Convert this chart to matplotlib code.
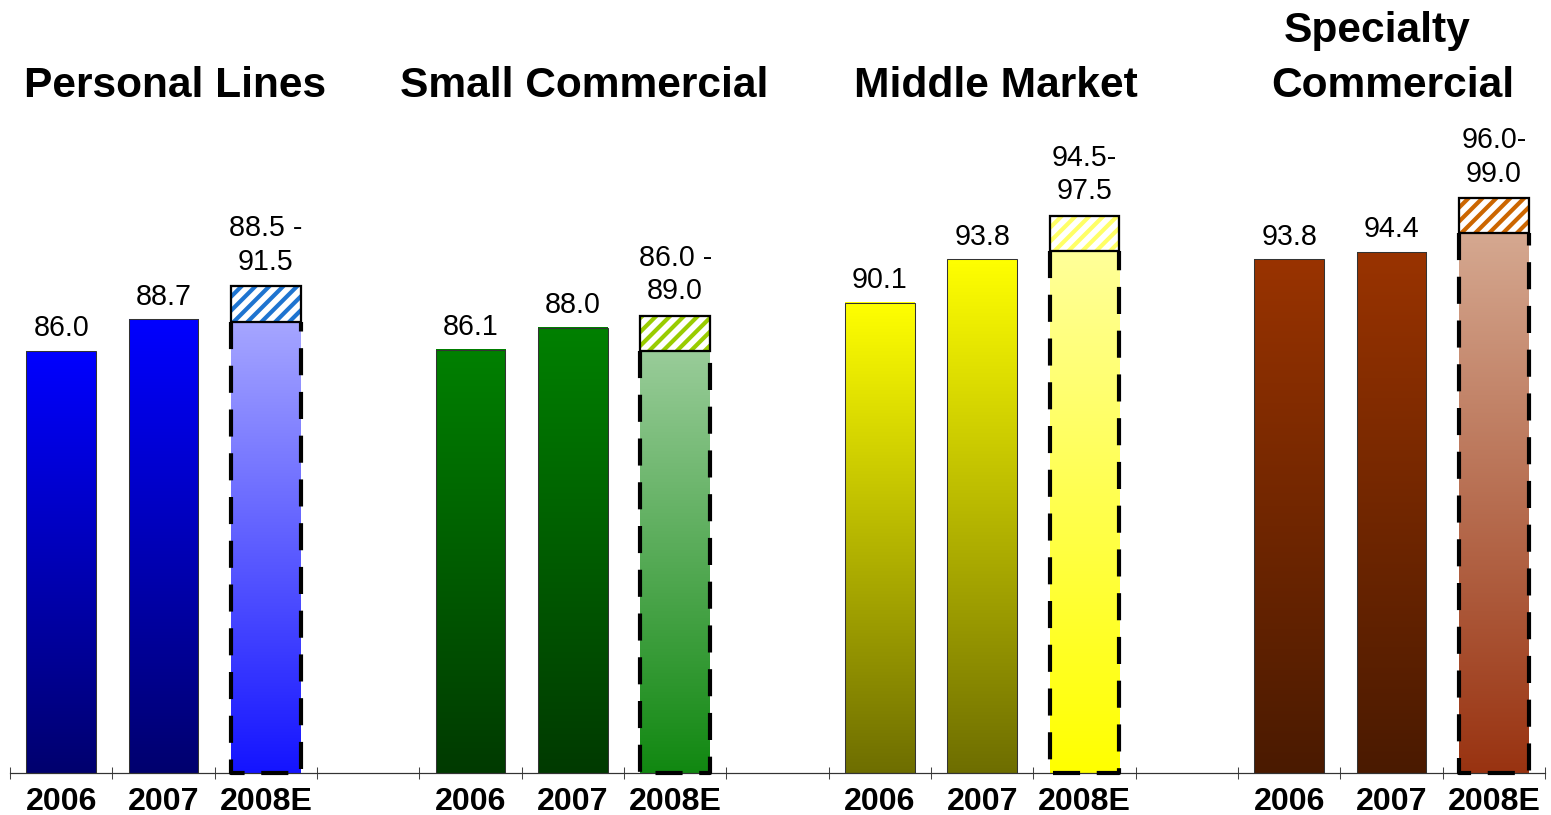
import numpy as np
import matplotlib.pyplot as plt
from matplotlib.colors import to_rgb
from matplotlib.patches import Rectangle

plt.rcParams['font.family'] = ['Liberation Sans', 'DejaVu Sans']
plt.rcParams['hatch.linewidth'] = 2.4

groups = ["Personal Lines", "Small Commercial", "Middle Market", "Specialty\nCommercial"]
years = ["2006", "2007", "2008E"]
val_2006 = [86.0, 86.1, 90.1, 93.8]
val_2007 = [88.7, 88.0, 93.8, 94.4]
est_low = [88.5, 86.0, 94.5, 96.0]
est_high = [91.5, 89.0, 97.5, 99.0]
est_labels = ["88.5 -\n91.5", "86.0 -\n89.0", "94.5-\n97.5", "96.0-\n99.0"]

# gradient colours, (top, bottom)
actual_colors = [("#0000ff", "#00006e"), ("#008000", "#003a00"),
                 ("#ffff00", "#6e6e00"), ("#993300", "#4a1a00")]
est_colors = [("#a6a6ff", "#1414ff"), ("#99cc99", "#118811"),
              ("#ffff99", "#ffff00"), ("#d5a890", "#993311")]
hatch_colors = ["#1e74d0", "#99cc00", "#ffff66", "#cc6600"]

W, H, DPI = 1551, 815, 125
YMIN, YMAX = 50.2, 115.8
BAR_W = 0.68


def gradient(ax, x, top, c_top, c_bot, zorder=2):
    """fill a bar from YMIN to top with a vertical colour gradient"""
    t = np.linspace(0, 1, 256)[:, None, None]
    img = (1 - t) * np.array(to_rgb(c_top)) + t * np.array(to_rgb(c_bot))
    ax.imshow(img, extent=(x - BAR_W / 2, x + BAR_W / 2, YMIN, top),
              aspect='auto', interpolation='bilinear', zorder=zorder)


fig = plt.figure(figsize=(W / DPI, H / DPI), dpi=DPI)
ax = fig.add_axes([10 / W, 1 - 773 / H, 1535 / W, 773 / H])

for g in range(len(groups)):
    x0 = 4 * g
    top_c, bot_c = actual_colors[g]
    for i, v in enumerate([val_2006[g], val_2007[g]]):
        x = x0 + i
        gradient(ax, x, v, top_c, bot_c)
        ax.add_patch(Rectangle((x - BAR_W / 2, YMIN), BAR_W, v - YMIN, fill=False,
                               edgecolor='#333333', lw=0.6, zorder=3))
        ax.annotate(f"{v:.1f}", (x, v), xytext=(0, 5), textcoords='offset points',
                    ha='center', va='bottom', fontsize=16.5)

    # 2008 estimate: solid lower part plus hatched range
    x = x0 + 2
    lo, hi = est_low[g], est_high[g]
    gradient(ax, x, lo, *est_colors[g])
    xl, xr = x - BAR_W / 2, x + BAR_W / 2
    ax.plot([xl, xl, xr, xr], [lo, YMIN, YMIN, lo], color='black', lw=2.4,
            ls=(0, (6.5, 4)), solid_capstyle='butt', clip_on=False, zorder=4)
    ax.add_patch(Rectangle((xl, lo), BAR_W, hi - lo, facecolor='white',
                           edgecolor=hatch_colors[g], hatch='///', lw=0, zorder=5))
    ax.add_patch(Rectangle((xl, lo), BAR_W, hi - lo, fill=False,
                           edgecolor='black', lw=1.3, zorder=6))
    ax.annotate(est_labels[g], (x, hi), xytext=(0, 6), textcoords='offset points',
                ha='center', va='bottom', fontsize=16.5, linespacing=1.25)

# group titles
title_x = [[175], [584], [996], [1377, 1393]]
for g, name in enumerate(groups):
    lines = name.split("\n")
    for k, line in enumerate(reversed(lines)):
        xs = title_x[g][len(lines) - 1 - k]
        fig.text(xs / W, 1 - (97 - 55 * k) / H, line, ha='center', va='baseline',
                 fontsize=24.5, fontweight='bold')

ax.set_xlim(-0.5, 14.5)
ax.set_ylim(YMIN, YMAX)
for s in ['top', 'left', 'right']:
    ax.spines[s].set_visible(False)
ax.spines['bottom'].set_color('#333333')
ax.spines['bottom'].set_linewidth(0.7)
ax.set_yticks([])
ax.set_xticks(np.arange(-0.5, 15, 1))
ax.set_xticklabels([])
ax.tick_params(axis='x', which='major', direction='inout', length=7, width=0.6,
               color='#444444')
centers = [4 * g + i for g in range(len(groups)) for i in range(len(years))]
ax.set_xticks(centers, years * len(groups), minor=True)
ax.tick_params(axis='x', which='minor', length=0, pad=8, labelsize=18.5)
for lab in ax.get_xticklabels(minor=True):
    lab.set_fontweight('bold')

fig.savefig("out.png", dpi=DPI)
